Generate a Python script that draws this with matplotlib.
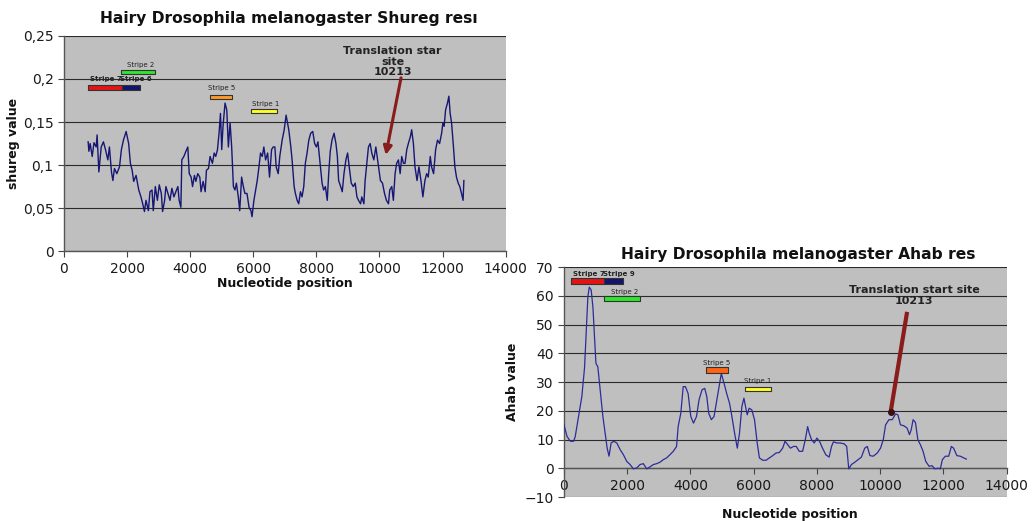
import matplotlib
matplotlib.use("Agg")
import matplotlib.pyplot as plt
from matplotlib.ticker import FuncFormatter

# ---------------- data: Shureg (top-left chart) ----------------
shureg_pos = [765, 790, 830, 895, 950, 1020, 1050, 1105, 1180, 1250, 1315, 1390, 1440, 1505, 1550,
              1600, 1675, 1760, 1820, 1885, 1970, 2050, 2105, 2160, 2210, 2285, 2370, 2440, 2495,
              2550, 2600, 2675, 2725, 2790, 2830, 2895, 2960, 3020, 3085, 3125, 3190, 3230, 3295,
              3360, 3420, 3485, 3545, 3610, 3650, 3705, 3735, 3800, 3865, 3925, 3970, 4030, 4075,
              4135, 4180, 4240, 4305, 4345, 4410, 4475, 4515, 4580, 4630, 4705, 4760, 4810, 4865,
              4915, 4960, 5000, 5040, 5105, 5160, 5210, 5265, 5315, 5370, 5420, 5465, 5525, 5570,
              5630, 5685, 5735, 5800, 5865, 5925, 5960, 6020, 6075, 6125, 6180, 6230, 6285, 6335,
              6390, 6455, 6515, 6580, 6630, 6685, 6725, 6790, 6840, 6915, 6980, 7040, 7085, 7125,
              7190, 7230, 7295, 7335, 7390, 7440, 7495, 7545, 7600, 7650, 7705, 7760, 7820, 7885,
              7945, 8000, 8050, 8095, 8135, 8180, 8230, 8285, 8345, 8390, 8440, 8495, 8560, 8620,
              8665, 8705, 8770, 8820, 8875, 8935, 8990, 9040, 9105, 9170, 9230, 9285, 9335, 9400,
              9440, 9505, 9545, 9610, 9650, 9705, 9755, 9820, 9885, 9925, 9970, 10030, 10095,
              10160, 10220, 10285, 10325, 10390, 10440, 10495, 10545, 10600, 10655, 10705, 10760,
              10810, 10865, 10915, 10980, 11020, 11075, 11125, 11190, 11250, 11315, 11375, 11440,
              11495, 11545, 11610, 11650, 11715, 11780, 11840, 11905, 11970, 12010, 12050, 12095,
              12155, 12200, 12240, 12285, 12345, 12390, 12440, 12495, 12545, 12600, 12650, 12675]
shureg_val = [0.127, 0.116, 0.125, 0.110, 0.126, 0.121, 0.135, 0.092, 0.121, 0.127, 0.118, 0.106,
              0.121, 0.092, 0.082, 0.096, 0.090, 0.098, 0.118, 0.129, 0.139, 0.125, 0.102, 0.094,
              0.081, 0.088, 0.071, 0.063, 0.055, 0.046, 0.059, 0.047, 0.069, 0.071, 0.047, 0.075,
              0.059, 0.077, 0.067, 0.046, 0.059, 0.075, 0.067, 0.059, 0.073, 0.063, 0.069, 0.075,
              0.059, 0.051, 0.106, 0.110, 0.116, 0.121, 0.090, 0.086, 0.075, 0.088, 0.081, 0.090,
              0.086, 0.069, 0.081, 0.069, 0.094, 0.096, 0.110, 0.102, 0.114, 0.110, 0.118, 0.137,
              0.160, 0.118, 0.145, 0.172, 0.164, 0.121, 0.149, 0.121, 0.075, 0.071, 0.079, 0.063,
              0.047, 0.086, 0.075, 0.067, 0.067, 0.051, 0.047, 0.040, 0.059, 0.071, 0.082, 0.098,
              0.114, 0.110, 0.121, 0.106, 0.114, 0.086, 0.118, 0.121, 0.121, 0.098, 0.090, 0.110,
              0.129, 0.141, 0.158, 0.149, 0.141, 0.121, 0.106, 0.075, 0.067, 0.059, 0.055, 0.069,
              0.063, 0.075, 0.102, 0.114, 0.129, 0.137, 0.139, 0.125, 0.121, 0.127, 0.110, 0.094,
              0.079, 0.071, 0.075, 0.059, 0.090, 0.116, 0.129, 0.137, 0.125, 0.110, 0.082, 0.075,
              0.069, 0.090, 0.106, 0.114, 0.098, 0.079, 0.075, 0.079, 0.063, 0.059, 0.055, 0.063,
              0.055, 0.082, 0.106, 0.121, 0.125, 0.114, 0.106, 0.121, 0.110, 0.098, 0.082, 0.079,
              0.067, 0.059, 0.055, 0.071, 0.075, 0.059, 0.090, 0.102, 0.106, 0.090, 0.110, 0.102,
              0.102, 0.118, 0.125, 0.133, 0.141, 0.125, 0.098, 0.082, 0.098, 0.082, 0.063, 0.082,
              0.090, 0.086, 0.110, 0.098, 0.090, 0.118, 0.129, 0.125, 0.137, 0.149, 0.145, 0.164,
              0.172, 0.180, 0.160, 0.149, 0.121, 0.098, 0.086, 0.079, 0.075, 0.067, 0.059, 0.082]

shureg_stripe_names = ["Stripe 7", "Stripe 6", "Stripe 2", "Stripe 5", "Stripe 1"]
shureg_stripe_start = [760, 1840, 1820, 4640, 5925]
shureg_stripe_end = [1840, 2410, 2885, 5335, 6745]
shureg_stripe_low = [0.1875, 0.1875, 0.2060, 0.1770, 0.1600]
shureg_stripe_high = [0.1925, 0.1925, 0.2105, 0.1815, 0.1650]
shureg_label_x = [1340, 2285, 2440, 4990, 6390]
shureg_label_y = [0.2005, 0.2005, 0.2165, 0.1895, 0.1705]

# ---------------- data: Ahab (bottom-right chart) ----------------
ahab_pos = [0, 95, 200, 305, 355, 460, 565, 650, 715, 755, 800, 860, 915, 965, 1010, 1070, 1145,
            1230, 1300, 1365, 1425, 1490, 1575, 1670, 1775, 1880, 1985, 2090, 2195, 2300, 2405,
            2510, 2615, 2720, 2825, 2930, 3035, 3140, 3245, 3350, 3455, 3560, 3610, 3695, 3770,
            3840, 3925, 4010, 4095, 4190, 4270, 4365, 4450, 4515, 4575, 4660, 4745, 4815, 4900,
            4975, 5060, 5145, 5235, 5310, 5395, 5480, 5550, 5625, 5690, 5740, 5795, 5855, 5940,
            6025, 6110, 6180, 6285, 6390, 6495, 6600, 6705, 6810, 6915, 6990, 7075, 7160, 7260,
            7345, 7440, 7545, 7630, 7705, 7755, 7830, 7915, 7995, 8080, 8175, 8280, 8385, 8460,
            8520, 8625, 8730, 8860, 8940, 9005, 9090, 9195, 9300, 9405, 9510, 9590, 9675, 9780,
            9905, 10010, 10095, 10170, 10275, 10380, 10485, 10560, 10640, 10745, 10850, 10925,
            10980, 11040, 11115, 11190, 11270, 11355, 11440, 11545, 11640, 11725, 11830, 11900,
            11965, 12060, 12165, 12250, 12320, 12425, 12530, 12720]
ahab_val = [15.1, 11.1, 9.4, 9.4, 11.0, 18.0, 25.0, 35.0, 50.0, 59.6, 63.0, 62.0, 56.0, 45.7, 36.5,
            35.3, 27.3, 18.0, 12.2, 7.0, 4.2, 8.8, 9.4, 8.8, 6.5, 4.7, 2.4, 1.3, -0.2, 0.1, 1.3,
            1.6, -0.2, 0.5, 1.3, 1.6, 2.1, 3.0, 3.6, 4.7, 5.9, 7.6, 14.5, 19.2, 28.4, 28.4, 26.0,
            18.0, 15.7, 18.0, 23.8, 27.3, 27.8, 25.0, 19.2, 16.9, 18.0, 22.6, 28.4, 33.0, 29.6,
            26.0, 22.6, 18.0, 12.2, 7.0, 12.2, 21.5, 24.4, 21.5, 18.6, 20.9, 20.3, 16.9, 8.8, 3.6,
            2.8, 2.8, 3.6, 4.4, 5.3, 5.5, 7.0, 9.4, 8.2, 7.0, 7.6, 7.6, 5.9, 5.9, 9.9, 14.5, 12.2,
            9.9, 8.8, 10.5, 9.4, 7.0, 4.7, 3.9, 7.6, 9.2, 8.8, 8.8, 8.5, 7.6, -0.2, 1.3, 2.1, 3.0,
            3.9, 7.0, 7.6, 4.4, 4.2, 5.3, 7.0, 9.9, 15.1, 16.9, 16.9, 18.9, 18.6, 15.1, 14.8, 14.0,
            11.7, 13.4, 16.9, 15.9, 9.9, 8.2, 5.9, 2.4, 0.7, 0.9, -0.2, 0.0, -0.2, 3.0, 4.2, 4.2,
            7.6, 7.0, 4.4, 4.2, 3.2]

ahab_stripe_names = ["Stripe 7", "Stripe 9", "Stripe 2", "Stripe 5", "Stripe 1"]
ahab_stripe_start = [220, 1280, 1280, 4500, 5720]
ahab_stripe_end = [1280, 1860, 2390, 5185, 6540]
ahab_stripe_low = [64.2, 64.2, 58.3, 33.1, 26.8]
ahab_stripe_high = [66.2, 66.2, 60.0, 35.1, 28.4]
ahab_label_x = [775, 1750, 1930, 4815, 6130]
ahab_label_y = [67.6, 67.6, 61.4, 36.6, 30.4]

stripe_colors_left = ["#e41414", "#14146e", "#2ee62e", "#ff9a28", "#ffff2a"]
stripe_colors_right = ["#e41414", "#14146e", "#2ee62e", "#ff6414", "#ffff2a"]

x_ticks = [0, 2000, 4000, 6000, 8000, 10000, 12000, 14000]
shureg_yticks = [0, 0.05, 0.10, 0.15, 0.20, 0.25]
ahab_yticks = [-10, 0, 10, 20, 30, 40, 50, 60, 70]

tss_position = 10213

BG = "#bfbfbf"
LINE_COLOR = "#161675"
ARROW_COLOR = "#8a1c1c"

fig = plt.figure(figsize=(10.32, 5.21), dpi=100)
fig.patch.set_facecolor("white")


def style_axes(ax):
    ax.set_facecolor(BG)
    for s in ["top", "right"]:
        ax.spines[s].set_visible(False)
    for s in ["left", "bottom"]:
        ax.spines[s].set_color("#555555")
        ax.spines[s].set_linewidth(1.0)
    ax.set_xticks(x_ticks)
    ax.tick_params(axis="both", labelsize=10, colors="#444444", length=4, width=0.8,
                   direction="out")
    ax.tick_params(axis="both", labelcolor="#1a1a1a")
    ax.yaxis.grid(True, color="#2a2a2a", linewidth=0.8)
    ax.set_axisbelow(True)


# ---------------- left chart ----------------
ax1 = fig.add_axes([0.062, 0.518, 0.428, 0.413])
style_axes(ax1)
ax1.set_xlim(0, 14000)
ax1.set_ylim(0, 0.25)
ax1.set_yticks(shureg_yticks)
ax1.yaxis.set_major_formatter(FuncFormatter(
    lambda v, p: "0" if v == 0 else ("%.2f" % v).rstrip("0").replace(".", ",")))
ax1.plot(shureg_pos, shureg_val, color=LINE_COLOR, lw=1.0, zorder=3)
for i in range(len(shureg_stripe_names)):
    ax1.broken_barh([(shureg_stripe_start[i], shureg_stripe_end[i] - shureg_stripe_start[i])],
                    (shureg_stripe_low[i], shureg_stripe_high[i] - shureg_stripe_low[i]),
                    facecolors=stripe_colors_left[i], edgecolors="#333333", linewidth=0.8,
                    zorder=4)
    ax1.text(shureg_label_x[i], shureg_label_y[i], shureg_stripe_names[i], fontsize=5,
             ha="center", va="center", color="#222222",
             fontweight="bold" if i < 2 else "normal", zorder=5)
ax1.set_title("Hairy Drosophila melanogaster Shureg resı", fontsize=11.2, fontweight="bold",
              pad=9, color="#111111", x=0.51)
ax1.set_xlabel("Nucleotide position", fontsize=9, fontweight="bold", labelpad=1,
               color="#111111")
ax1.set_ylabel("shureg value", fontsize=9, fontweight="bold", labelpad=2, color="#111111")
ax1.annotate("", xy=(tss_position - 30, 0.1085), xytext=(10700, 0.2045),
             arrowprops=dict(arrowstyle="-|>,head_length=0.5,head_width=0.25",
                             color=ARROW_COLOR, lw=2.2), zorder=6)
ax1.text(10420, 0.220, "Translation star\nsite\n%d" % tss_position, fontsize=8,
         fontweight="bold", ha="center", va="center", color="#222222",
         linespacing=1.05, zorder=6)

# ---------------- right chart ----------------
ax2 = fig.add_axes([0.5465, 0.046, 0.429, 0.4415])
style_axes(ax2)
ax2.set_xlim(0, 14000)
ax2.set_ylim(-10, 70)
ax2.set_yticks(ahab_yticks)
ax2.spines["bottom"].set_position(("data", 0))
ax2.plot(ahab_pos, ahab_val, color="#2c2c9a", lw=0.9, zorder=3)
for i in range(len(ahab_stripe_names)):
    ax2.broken_barh([(ahab_stripe_start[i], ahab_stripe_end[i] - ahab_stripe_start[i])],
                    (ahab_stripe_low[i], ahab_stripe_high[i] - ahab_stripe_low[i]),
                    facecolors=stripe_colors_right[i], edgecolors="#333333", linewidth=0.8,
                    zorder=4)
    ax2.text(ahab_label_x[i], ahab_label_y[i], ahab_stripe_names[i], fontsize=5,
             ha="center", va="center", color="#222222",
             fontweight="bold" if i < 2 else "normal", zorder=5)
ax2.set_title("Hairy Drosophila melanogaster Ahab res", fontsize=11.2, fontweight="bold",
              pad=6, color="#111111", x=0.53)
fig.text(0.765, 0.012, "Nucleotide position", fontsize=9, fontweight="bold",
         ha="center", va="center", color="#111111")
ax2.set_ylabel("Ahab value", fontsize=9, fontweight="bold", labelpad=4, color="#111111")
ax2.plot([10850, 10330], [54.4, 19.6], color=ARROW_COLOR, lw=3.0, solid_capstyle="butt",
         zorder=6)
ax2.plot([10330], [19.6], marker="o", color="#3a1010", markersize=4, zorder=7)
ax2.text(11080, 62.1, "Translation start site", fontsize=8, fontweight="bold",
         ha="center", va="center", color="#222222", zorder=6)
ax2.text(11080, 58.3, "%d" % tss_position, fontsize=8, fontweight="bold",
         ha="center", va="center", color="#222222", zorder=6)

fig.savefig("out.png", dpi=100, facecolor="white")
